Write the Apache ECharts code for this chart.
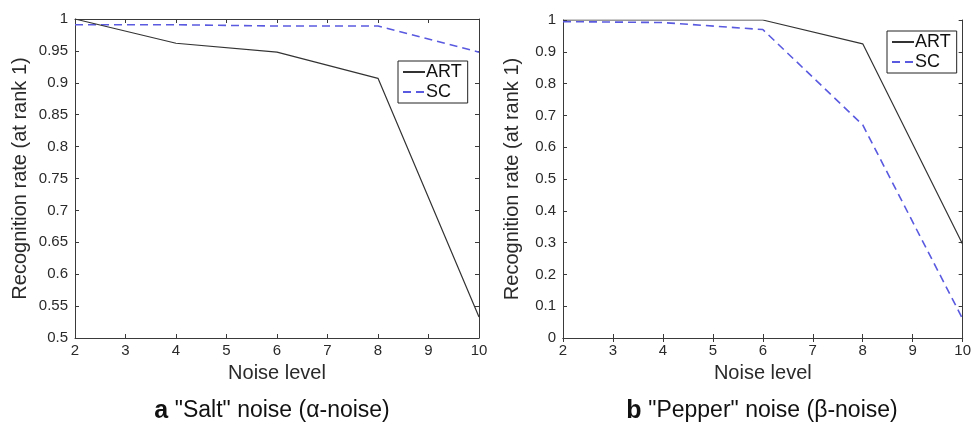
<!DOCTYPE html>
<html>
<head>
<meta charset="utf-8">
<script src="https://cdn.jsdelivr.net/npm/echarts@6/dist/echarts.min.js"></script>
<style>
html,body{margin:0;padding:0;background:#fff;}
#c{width:974px;height:428px;}
</style>
</head>
<body>
<div id="c"></div>
<script>
// ---- data ----
const noiseLevels = [2, 4, 6, 8, 10];
const saltART = [1.0, 0.962, 0.948, 0.907, 0.533];
const saltSC = [0.991, 0.991, 0.989, 0.989, 0.948];
const pepperART = [1.0, 1.0, 1.0, 0.925, 0.295];
const pepperSC = [0.995, 0.992, 0.97, 0.67, 0.06];
const xTicks = [2, 3, 4, 5, 6, 7, 8, 9, 10];
const yTicksSalt = [0.5, 0.55, 0.6, 0.65, 0.7, 0.75, 0.8, 0.85, 0.9, 0.95, 1];
const yTicksPepper = [0, 0.1, 0.2, 0.3, 0.4, 0.5, 0.6, 0.7, 0.8, 0.9, 1];
const seriesNames = ['ART', 'SC'];
const xTitle = 'Noise level';
const yTitle = 'Recognition rate (at rank 1)';
const captionA = ['a', '"Salt" noise (α-noise)'];
const captionB = ['b', '"Pepper" noise (β-noise)'];

const FONT = '"Liberation Sans", Arial, sans-serif';
const AX = '#3a3a3a';
const LBL = '#2a2a2a';
const BLUE = '#5a5ae0';

function pairs(xs, ys) { return xs.map((x, i) => [x, ys[i]]); }

function xAxisPair(grid, nameGap) {
  const base = {
    type: 'value', gridIndex: grid,
    min: xTicks[0], max: xTicks[xTicks.length - 1], interval: 1,
    axisLine: {show: true, lineStyle: {color: AX, width: 1}},
    axisTick: {show: true, inside: true, length: 4, lineStyle: {color: AX}},
    splitLine: {show: false}
  };
  return [
    Object.assign({}, base, {
      position: 'bottom',
      axisLabel: {show: true, color: LBL, fontSize: 15, fontFamily: FONT, margin: 5, showMinLabel: true, showMaxLabel: true},
      name: xTitle, nameLocation: 'middle', nameGap: nameGap,
      nameTextStyle: {color: LBL, fontSize: 20, fontFamily: FONT}
    }),
    Object.assign({}, base, {position: 'top', axisLabel: {show: false}})
  ];
}

function yAxisPair(grid, ticks, interval, nameGap) {
  const base = {
    type: 'value', gridIndex: grid,
    min: ticks[0], max: ticks[ticks.length - 1], interval: interval,
    axisLine: {show: true, lineStyle: {color: AX, width: 1}},
    axisTick: {show: true, inside: true, length: 4, lineStyle: {color: AX}},
    splitLine: {show: false}
  };
  return [
    Object.assign({}, base, {
      position: 'left',
      axisLabel: {show: true, color: LBL, fontSize: 15, fontFamily: FONT, margin: 7, showMinLabel: true, showMaxLabel: true,
        formatter: v => String(Math.round(v * 100) / 100)},
      name: yTitle, nameLocation: 'middle', nameGap: nameGap, nameRotate: 90,
      nameTextStyle: {color: LBL, fontSize: 20, fontFamily: FONT}
    }),
    Object.assign({}, base, {position: 'right', axisLabel: {show: false}})
  ];
}

function legendAt(left, top) {
  return {
    left: left, top: top, orient: 'vertical',
    data: seriesNames,
    itemWidth: 22, itemHeight: 10, itemGap: 2,
    padding: [2, 6, 2, 4],
    borderColor: '#222', borderWidth: 1, borderRadius: 0,
    backgroundColor: '#fff',
    itemStyle: {opacity: 0},
    textStyle: {color: '#111', fontSize: 18, fontFamily: FONT, padding: [0, 0, 0, -4]},
    selectedMode: false
  };
}

function caption(x, y, parts) {
  return {
    type: 'text', x: x, y: y,
    style: {
      text: '{b|' + parts[0] + '}  {n|' + parts[1] + '}',
      align: 'center', verticalAlign: 'middle',
      rich: {
        b: {fontSize: 25, fontWeight: 'bold', fontFamily: FONT, fill: '#111'},
        n: {fontSize: 23, fontFamily: FONT, fill: '#111'}
      }
    }
  };
}

const artStyle = {color: '#333', width: 1.2, type: 'solid'};
const scStyle = {color: BLUE, width: 1.6, type: [8, 5]};

const option = {
  animation: false,
  backgroundColor: '#fff',
  grid: [
    {left: 75, right: 974 - 479, top: 19, bottom: 428 - 338, containLabel: false},
    {left: 563, right: 974 - 967, top: 20, bottom: 428 - 338, containLabel: false}
  ],
  xAxis: [...xAxisPair(0, 25), ...xAxisPair(1, 25)],
  yAxis: [...yAxisPair(0, yTicksSalt, 0.05, 45), ...yAxisPair(1, yTicksPepper, 0.1, 41)],
  legend: [legendAt(398, 61), legendAt(887, 31)],
  series: [
    {name: 'ART', type: 'line', xAxisIndex: 0, yAxisIndex: 0, data: pairs(noiseLevels, saltART),
      showSymbol: false, symbol: 'none', lineStyle: artStyle, itemStyle: {color: '#333'}, z: 3},
    {name: 'SC', type: 'line', xAxisIndex: 0, yAxisIndex: 0, data: pairs(noiseLevels, saltSC),
      showSymbol: false, symbol: 'none', lineStyle: scStyle, itemStyle: {color: BLUE}, z: 2},
    {name: 'ART', type: 'line', xAxisIndex: 2, yAxisIndex: 2, data: pairs(noiseLevels, pepperART),
      showSymbol: false, symbol: 'none', lineStyle: artStyle, itemStyle: {color: '#333'}, z: 3},
    {name: 'SC', type: 'line', xAxisIndex: 2, yAxisIndex: 2, data: pairs(noiseLevels, pepperSC),
      showSymbol: false, symbol: 'none', lineStyle: scStyle, itemStyle: {color: BLUE}, z: 2}
  ],
  graphic: [caption(272, 411, captionA), caption(762, 411, captionB)]
};

const chart = echarts.init(document.getElementById('c'), null, {renderer: 'canvas'});
chart.setOption(option);
</script>
</body>
</html>
